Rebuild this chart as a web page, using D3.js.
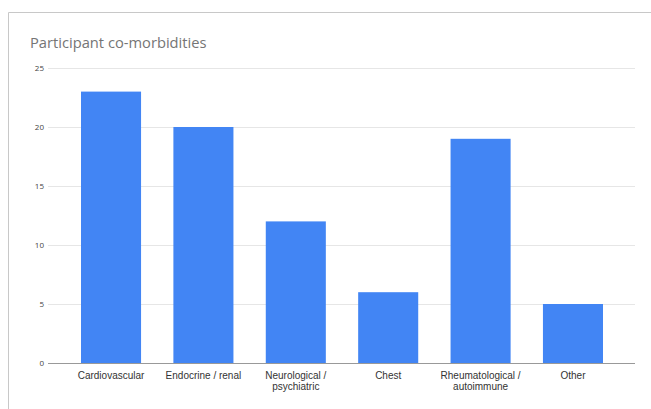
<!DOCTYPE html>
<html>
<head>
<meta charset="utf-8">
<title>Participant co-morbidities</title>
<script src="https://cdnjs.cloudflare.com/ajax/libs/d3/7.8.5/d3.min.js"></script>
<style>
body { margin: 0; background: #fff; }
svg { font-family: "Open Sans", "DejaVu Sans", sans-serif; }
.grid line { stroke: #e6e6e6; }
.grid path { display: none; }
.axis--x path, .axis--x line { display: none; }
.axis--x text { fill: #333; font-size: 10px; }
.title { fill: #757575; font-size: 14.7px; }
</style>
</head>
<body>
<svg id="chart" width="651" height="409"></svg>
<script>
var categories = ["Cardiovascular", "Endocrine / renal", "Neurological / psychiatric", "Chest", "Rheumatological / autoimmune", "Other"];
var counts = [23, 20, 12, 6, 19, 5];
var yTicks = [0, 5, 10, 15, 20, 25];

var svg = d3.select("#chart");

// frame around the chart
svg.append("path")
  .attr("d", "M8.5,409 V12.5 H651")
  .attr("fill", "none")
  .attr("stroke", "#c8c8c8");

svg.append("text")
  .attr("class", "title")
  .attr("x", 30)
  .attr("y", 48)
  .text("Participant co-morbidities");

var plotLeft = 48, plotRight = 635, plotTop = 68, plotBottom = 363;

var x = d3.scaleBand()
  .domain(categories)
  .range([81, 603])
  .paddingInner(0.35)
  .paddingOuter(0);

var y = d3.scaleLinear()
  .domain([0, 25])
  .range([plotBottom, plotTop]);

var g = svg.append("g");

g.append("g")
  .attr("class", "grid")
  .attr("transform", `translate(${plotLeft},0)`)
  .call(d3.axisLeft(y).tickValues(yTicks).tickSize(-(plotRight - plotLeft)).tickFormat(""));

yTicks.forEach(function(t) {
  g.append("text")
    .attr("x", plotLeft - 4)
    .attr("y", y(t) + 3)
    .attr("text-anchor", "end")
    .attr("font-size", 8)
    .attr("fill", "#444")
    .text(t);
});

g.selectAll(".bar")
  .data(categories)
  .enter().append("rect")
    .attr("class", "bar")
    .attr("x", d => x(d))
    .attr("y", (d, i) => y(counts[i]))
    .attr("width", x.bandwidth())
    .attr("height", (d, i) => plotBottom - y(counts[i]))
    .attr("fill", "#4285f4");

g.append("line")
  .attr("x1", plotLeft).attr("x2", plotRight)
  .attr("y1", plotBottom + 0.5).attr("y2", plotBottom + 0.5)
  .attr("stroke", "#999");

var xa = g.append("g")
  .attr("class", "axis--x")
  .attr("transform", `translate(0,${plotBottom})`)
  .call(d3.axisBottom(x).tickSize(0).tickPadding(9));

// wrap labels with " / " into two lines
xa.selectAll("text").each(function(d) {
  var t = d3.select(this);
  var parts = d.match(/^(.*\/) (.*)$/);
  if (parts && d.length > 20) {
    t.text(null);
    t.append("tspan").attr("x", 0).attr("dy", "0.71em").text(parts[1]);
    t.append("tspan").attr("x", 0).attr("dy", "1.1em").text(parts[2]);
    t.attr("dy", null);
  }
});
</script>
</body>
</html>
